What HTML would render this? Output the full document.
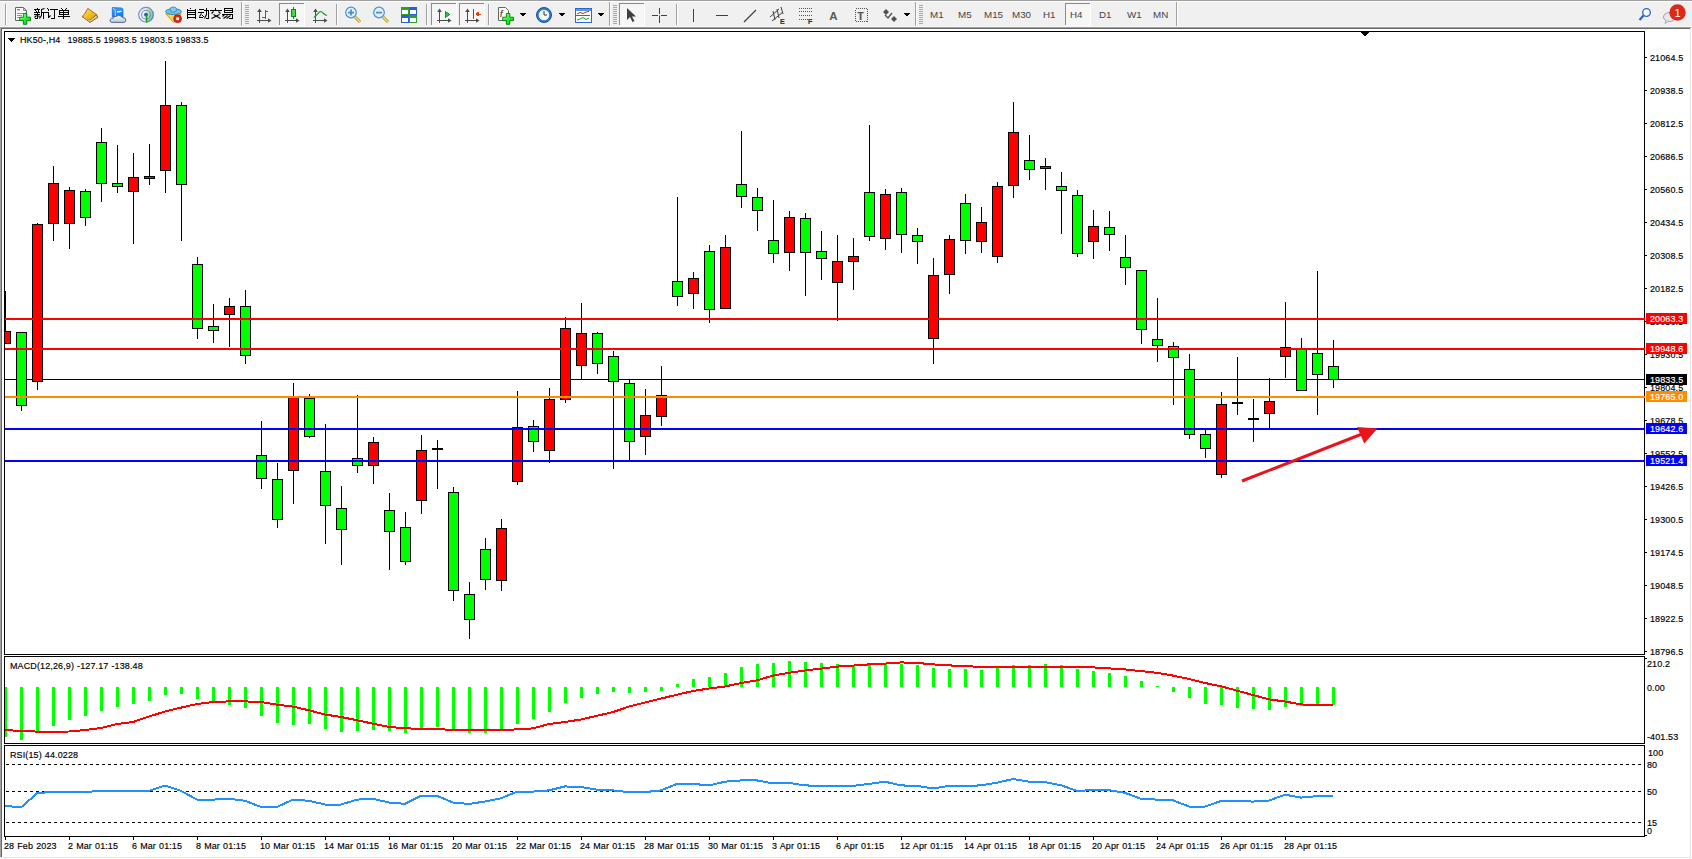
<!DOCTYPE html>
<html><head><meta charset="utf-8">
<style>
html,body{margin:0;padding:0;width:1692px;height:859px;overflow:hidden;background:#f0f0f0}
svg{position:absolute;left:0;top:0}
text{font-family:"Liberation Sans",sans-serif;stroke:currentColor;stroke-width:0.15px;letter-spacing:0.12px;word-spacing:0.4px}
text.nt{stroke:none;letter-spacing:0}
.tb{position:absolute;font-family:"Liberation Sans",sans-serif;white-space:nowrap}
</style></head><body>
<svg width="1692" height="859" viewBox="0 0 1692 859" shape-rendering="crispEdges">
<rect x="0" y="0" width="1692" height="859" fill="#f0f0f0"/>
<rect x="0" y="0" width="1692" height="1" fill="#a0a0a0"/>
<rect x="0" y="1" width="1692" height="1" fill="#ffffff"/>
<rect x="0" y="26" width="1692" height="1" fill="#f6f6f6"/>
<rect x="0" y="27" width="1691" height="1" fill="#a0a0a0"/>
<rect x="0" y="28" width="1690" height="1" fill="#696969"/>
<rect x="2" y="29" width="1688" height="828" fill="#ffffff"/>
<rect x="0" y="27" width="1" height="830" fill="#a0a0a0"/>
<rect x="1" y="28" width="1" height="829" fill="#696969"/>
<rect x="1690" y="28" width="1" height="830" fill="#e3e3e3"/>
<rect x="0" y="857" width="1691" height="1" fill="#e3e3e3"/>
<rect x="1691" y="28" width="1" height="831" fill="#ffffff"/>
<rect x="0" y="858" width="1692" height="1" fill="#ffffff"/>
<defs><clipPath id="cm"><rect x="5" y="32" width="1639" height="622"/></clipPath><clipPath id="cd"><rect x="5" y="657" width="1639" height="86"/></clipPath><clipPath id="cr"><rect x="5" y="746" width="1639" height="90"/></clipPath></defs>
<g clip-path="url(#cm)">
<rect x="5" y="379" width="1640" height="1" fill="#000"/>
<rect x="5" y="291" width="1" height="53" fill="#000"/>
<rect x="0" y="331" width="11" height="13" fill="#000"/>
<rect x="1" y="332" width="9" height="11" fill="#ff0000"/>
<rect x="21" y="332" width="1" height="79" fill="#000"/>
<rect x="16" y="332" width="11" height="74" fill="#000"/>
<rect x="17" y="333" width="9" height="72" fill="#00ff00"/>
<rect x="37" y="223" width="1" height="167" fill="#000"/>
<rect x="32" y="224" width="11" height="158" fill="#000"/>
<rect x="33" y="225" width="9" height="156" fill="#ff0000"/>
<rect x="53" y="166" width="1" height="75" fill="#000"/>
<rect x="48" y="183" width="11" height="41" fill="#000"/>
<rect x="49" y="184" width="9" height="39" fill="#ff0000"/>
<rect x="69" y="187" width="1" height="62" fill="#000"/>
<rect x="64" y="190" width="11" height="34" fill="#000"/>
<rect x="65" y="191" width="9" height="32" fill="#ff0000"/>
<rect x="85" y="189" width="1" height="37" fill="#000"/>
<rect x="80" y="191" width="11" height="27" fill="#000"/>
<rect x="81" y="192" width="9" height="25" fill="#00ff00"/>
<rect x="101" y="128" width="1" height="74" fill="#000"/>
<rect x="96" y="142" width="11" height="42" fill="#000"/>
<rect x="97" y="143" width="9" height="40" fill="#00ff00"/>
<rect x="117" y="145" width="1" height="48" fill="#000"/>
<rect x="112" y="183" width="11" height="4" fill="#000"/>
<rect x="113" y="184" width="9" height="2" fill="#00ff00"/>
<rect x="133" y="153" width="1" height="91" fill="#000"/>
<rect x="128" y="177" width="11" height="15" fill="#000"/>
<rect x="129" y="178" width="9" height="13" fill="#ff0000"/>
<rect x="149" y="144" width="1" height="41" fill="#000"/>
<rect x="144" y="176" width="11" height="3" fill="#000"/>
<rect x="145" y="177" width="9" height="1" fill="#ff0000"/>
<rect x="165" y="61" width="1" height="132" fill="#000"/>
<rect x="160" y="105" width="11" height="66" fill="#000"/>
<rect x="161" y="106" width="9" height="64" fill="#ff0000"/>
<rect x="181" y="102" width="1" height="139" fill="#000"/>
<rect x="176" y="105" width="11" height="80" fill="#000"/>
<rect x="177" y="106" width="9" height="78" fill="#00ff00"/>
<rect x="197" y="257" width="1" height="82" fill="#000"/>
<rect x="192" y="264" width="11" height="65" fill="#000"/>
<rect x="193" y="265" width="9" height="63" fill="#00ff00"/>
<rect x="213" y="304" width="1" height="39" fill="#000"/>
<rect x="208" y="326" width="11" height="5" fill="#000"/>
<rect x="209" y="327" width="9" height="3" fill="#00ff00"/>
<rect x="229" y="298" width="1" height="49" fill="#000"/>
<rect x="224" y="306" width="11" height="9" fill="#000"/>
<rect x="225" y="307" width="9" height="7" fill="#ff0000"/>
<rect x="245" y="290" width="1" height="74" fill="#000"/>
<rect x="240" y="306" width="11" height="50" fill="#000"/>
<rect x="241" y="307" width="9" height="48" fill="#00ff00"/>
<rect x="261" y="421" width="1" height="68" fill="#000"/>
<rect x="256" y="455" width="11" height="24" fill="#000"/>
<rect x="257" y="456" width="9" height="22" fill="#00ff00"/>
<rect x="277" y="463" width="1" height="65" fill="#000"/>
<rect x="272" y="479" width="11" height="41" fill="#000"/>
<rect x="273" y="480" width="9" height="39" fill="#00ff00"/>
<rect x="293" y="383" width="1" height="121" fill="#000"/>
<rect x="288" y="397" width="11" height="74" fill="#000"/>
<rect x="289" y="398" width="9" height="72" fill="#ff0000"/>
<rect x="309" y="394" width="1" height="44" fill="#000"/>
<rect x="304" y="398" width="11" height="39" fill="#000"/>
<rect x="305" y="399" width="9" height="37" fill="#00ff00"/>
<rect x="325" y="424" width="1" height="120" fill="#000"/>
<rect x="320" y="471" width="11" height="35" fill="#000"/>
<rect x="321" y="472" width="9" height="33" fill="#00ff00"/>
<rect x="341" y="486" width="1" height="79" fill="#000"/>
<rect x="336" y="508" width="11" height="22" fill="#000"/>
<rect x="337" y="509" width="9" height="20" fill="#00ff00"/>
<rect x="357" y="395" width="1" height="78" fill="#000"/>
<rect x="352" y="458" width="11" height="8" fill="#000"/>
<rect x="353" y="459" width="9" height="6" fill="#00ff00"/>
<rect x="373" y="437" width="1" height="47" fill="#000"/>
<rect x="368" y="442" width="11" height="24" fill="#000"/>
<rect x="369" y="443" width="9" height="22" fill="#ff0000"/>
<rect x="389" y="493" width="1" height="77" fill="#000"/>
<rect x="384" y="510" width="11" height="22" fill="#000"/>
<rect x="385" y="511" width="9" height="20" fill="#00ff00"/>
<rect x="405" y="512" width="1" height="53" fill="#000"/>
<rect x="400" y="527" width="11" height="35" fill="#000"/>
<rect x="401" y="528" width="9" height="33" fill="#00ff00"/>
<rect x="421" y="435" width="1" height="79" fill="#000"/>
<rect x="416" y="450" width="11" height="51" fill="#000"/>
<rect x="417" y="451" width="9" height="49" fill="#ff0000"/>
<rect x="437" y="440" width="1" height="49" fill="#000"/>
<rect x="432" y="448" width="11" height="2" fill="#000"/>
<rect x="453" y="487" width="1" height="114" fill="#000"/>
<rect x="448" y="492" width="11" height="99" fill="#000"/>
<rect x="449" y="493" width="9" height="97" fill="#00ff00"/>
<rect x="469" y="582" width="1" height="57" fill="#000"/>
<rect x="464" y="594" width="11" height="26" fill="#000"/>
<rect x="465" y="595" width="9" height="24" fill="#00ff00"/>
<rect x="485" y="538" width="1" height="52" fill="#000"/>
<rect x="480" y="549" width="11" height="31" fill="#000"/>
<rect x="481" y="550" width="9" height="29" fill="#00ff00"/>
<rect x="501" y="519" width="1" height="72" fill="#000"/>
<rect x="496" y="528" width="11" height="53" fill="#000"/>
<rect x="497" y="529" width="9" height="51" fill="#ff0000"/>
<rect x="517" y="391" width="1" height="94" fill="#000"/>
<rect x="512" y="427" width="11" height="55" fill="#000"/>
<rect x="513" y="428" width="9" height="53" fill="#ff0000"/>
<rect x="533" y="420" width="1" height="32" fill="#000"/>
<rect x="528" y="426" width="11" height="16" fill="#000"/>
<rect x="529" y="427" width="9" height="14" fill="#00ff00"/>
<rect x="549" y="388" width="1" height="75" fill="#000"/>
<rect x="544" y="399" width="11" height="52" fill="#000"/>
<rect x="545" y="400" width="9" height="50" fill="#ff0000"/>
<rect x="565" y="317" width="1" height="86" fill="#000"/>
<rect x="560" y="328" width="11" height="72" fill="#000"/>
<rect x="561" y="329" width="9" height="70" fill="#ff0000"/>
<rect x="581" y="303" width="1" height="76" fill="#000"/>
<rect x="576" y="333" width="11" height="33" fill="#000"/>
<rect x="577" y="334" width="9" height="31" fill="#ff0000"/>
<rect x="597" y="332" width="1" height="42" fill="#000"/>
<rect x="592" y="333" width="11" height="31" fill="#000"/>
<rect x="593" y="334" width="9" height="29" fill="#00ff00"/>
<rect x="613" y="351" width="1" height="118" fill="#000"/>
<rect x="608" y="356" width="11" height="26" fill="#000"/>
<rect x="609" y="357" width="9" height="24" fill="#00ff00"/>
<rect x="629" y="380" width="1" height="80" fill="#000"/>
<rect x="624" y="383" width="11" height="59" fill="#000"/>
<rect x="625" y="384" width="9" height="57" fill="#00ff00"/>
<rect x="645" y="389" width="1" height="66" fill="#000"/>
<rect x="640" y="415" width="11" height="22" fill="#000"/>
<rect x="641" y="416" width="9" height="20" fill="#ff0000"/>
<rect x="661" y="366" width="1" height="60" fill="#000"/>
<rect x="656" y="395" width="11" height="22" fill="#000"/>
<rect x="657" y="396" width="9" height="20" fill="#ff0000"/>
<rect x="677" y="197" width="1" height="109" fill="#000"/>
<rect x="672" y="281" width="11" height="16" fill="#000"/>
<rect x="673" y="282" width="9" height="14" fill="#00ff00"/>
<rect x="693" y="272" width="1" height="37" fill="#000"/>
<rect x="688" y="278" width="11" height="16" fill="#000"/>
<rect x="689" y="279" width="9" height="14" fill="#ff0000"/>
<rect x="709" y="245" width="1" height="78" fill="#000"/>
<rect x="704" y="251" width="11" height="59" fill="#000"/>
<rect x="705" y="252" width="9" height="57" fill="#00ff00"/>
<rect x="725" y="235" width="1" height="74" fill="#000"/>
<rect x="720" y="247" width="11" height="62" fill="#000"/>
<rect x="721" y="248" width="9" height="60" fill="#ff0000"/>
<rect x="741" y="131" width="1" height="77" fill="#000"/>
<rect x="736" y="184" width="11" height="13" fill="#000"/>
<rect x="737" y="185" width="9" height="11" fill="#00ff00"/>
<rect x="757" y="188" width="1" height="43" fill="#000"/>
<rect x="752" y="197" width="11" height="14" fill="#000"/>
<rect x="753" y="198" width="9" height="12" fill="#00ff00"/>
<rect x="773" y="200" width="1" height="63" fill="#000"/>
<rect x="768" y="240" width="11" height="14" fill="#000"/>
<rect x="769" y="241" width="9" height="12" fill="#00ff00"/>
<rect x="789" y="211" width="1" height="60" fill="#000"/>
<rect x="784" y="217" width="11" height="36" fill="#000"/>
<rect x="785" y="218" width="9" height="34" fill="#ff0000"/>
<rect x="805" y="213" width="1" height="83" fill="#000"/>
<rect x="800" y="218" width="11" height="35" fill="#000"/>
<rect x="801" y="219" width="9" height="33" fill="#00ff00"/>
<rect x="821" y="231" width="1" height="49" fill="#000"/>
<rect x="816" y="251" width="11" height="8" fill="#000"/>
<rect x="817" y="252" width="9" height="6" fill="#00ff00"/>
<rect x="837" y="235" width="1" height="86" fill="#000"/>
<rect x="832" y="261" width="11" height="22" fill="#000"/>
<rect x="833" y="262" width="9" height="20" fill="#ff0000"/>
<rect x="853" y="238" width="1" height="52" fill="#000"/>
<rect x="848" y="256" width="11" height="6" fill="#000"/>
<rect x="849" y="257" width="9" height="4" fill="#ff0000"/>
<rect x="869" y="125" width="1" height="116" fill="#000"/>
<rect x="864" y="192" width="11" height="45" fill="#000"/>
<rect x="865" y="193" width="9" height="43" fill="#00ff00"/>
<rect x="885" y="189" width="1" height="61" fill="#000"/>
<rect x="880" y="194" width="11" height="45" fill="#000"/>
<rect x="881" y="195" width="9" height="43" fill="#ff0000"/>
<rect x="901" y="188" width="1" height="65" fill="#000"/>
<rect x="896" y="192" width="11" height="43" fill="#000"/>
<rect x="897" y="193" width="9" height="41" fill="#00ff00"/>
<rect x="917" y="228" width="1" height="36" fill="#000"/>
<rect x="912" y="235" width="11" height="7" fill="#000"/>
<rect x="913" y="236" width="9" height="5" fill="#00ff00"/>
<rect x="933" y="258" width="1" height="106" fill="#000"/>
<rect x="928" y="275" width="11" height="64" fill="#000"/>
<rect x="929" y="276" width="9" height="62" fill="#ff0000"/>
<rect x="949" y="235" width="1" height="59" fill="#000"/>
<rect x="944" y="239" width="11" height="36" fill="#000"/>
<rect x="945" y="240" width="9" height="34" fill="#ff0000"/>
<rect x="965" y="194" width="1" height="60" fill="#000"/>
<rect x="960" y="203" width="11" height="38" fill="#000"/>
<rect x="961" y="204" width="9" height="36" fill="#00ff00"/>
<rect x="981" y="207" width="1" height="46" fill="#000"/>
<rect x="976" y="222" width="11" height="20" fill="#000"/>
<rect x="977" y="223" width="9" height="18" fill="#ff0000"/>
<rect x="997" y="182" width="1" height="81" fill="#000"/>
<rect x="992" y="186" width="11" height="71" fill="#000"/>
<rect x="993" y="187" width="9" height="69" fill="#ff0000"/>
<rect x="1013" y="102" width="1" height="96" fill="#000"/>
<rect x="1008" y="132" width="11" height="54" fill="#000"/>
<rect x="1009" y="133" width="9" height="52" fill="#ff0000"/>
<rect x="1029" y="135" width="1" height="45" fill="#000"/>
<rect x="1024" y="160" width="11" height="10" fill="#000"/>
<rect x="1025" y="161" width="9" height="8" fill="#00ff00"/>
<rect x="1045" y="158" width="1" height="32" fill="#000"/>
<rect x="1040" y="166" width="11" height="3" fill="#000"/>
<rect x="1041" y="167" width="9" height="1" fill="#ff0000"/>
<rect x="1061" y="172" width="1" height="62" fill="#000"/>
<rect x="1056" y="186" width="11" height="5" fill="#000"/>
<rect x="1057" y="187" width="9" height="3" fill="#00ff00"/>
<rect x="1077" y="190" width="1" height="67" fill="#000"/>
<rect x="1072" y="195" width="11" height="59" fill="#000"/>
<rect x="1073" y="196" width="9" height="57" fill="#00ff00"/>
<rect x="1093" y="210" width="1" height="49" fill="#000"/>
<rect x="1088" y="226" width="11" height="16" fill="#000"/>
<rect x="1089" y="227" width="9" height="14" fill="#ff0000"/>
<rect x="1109" y="211" width="1" height="40" fill="#000"/>
<rect x="1104" y="227" width="11" height="8" fill="#000"/>
<rect x="1105" y="228" width="9" height="6" fill="#00ff00"/>
<rect x="1125" y="235" width="1" height="50" fill="#000"/>
<rect x="1120" y="257" width="11" height="11" fill="#000"/>
<rect x="1121" y="258" width="9" height="9" fill="#00ff00"/>
<rect x="1141" y="270" width="1" height="74" fill="#000"/>
<rect x="1136" y="270" width="11" height="60" fill="#000"/>
<rect x="1137" y="271" width="9" height="58" fill="#00ff00"/>
<rect x="1157" y="298" width="1" height="64" fill="#000"/>
<rect x="1152" y="339" width="11" height="7" fill="#000"/>
<rect x="1153" y="340" width="9" height="5" fill="#00ff00"/>
<rect x="1173" y="342" width="1" height="63" fill="#000"/>
<rect x="1168" y="346" width="11" height="12" fill="#000"/>
<rect x="1169" y="347" width="9" height="10" fill="#00ff00"/>
<rect x="1189" y="354" width="1" height="85" fill="#000"/>
<rect x="1184" y="369" width="11" height="66" fill="#000"/>
<rect x="1185" y="370" width="9" height="64" fill="#00ff00"/>
<rect x="1205" y="429" width="1" height="29" fill="#000"/>
<rect x="1200" y="434" width="11" height="15" fill="#000"/>
<rect x="1201" y="435" width="9" height="13" fill="#00ff00"/>
<rect x="1221" y="392" width="1" height="86" fill="#000"/>
<rect x="1216" y="404" width="11" height="71" fill="#000"/>
<rect x="1217" y="405" width="9" height="69" fill="#ff0000"/>
<rect x="1237" y="357" width="1" height="58" fill="#000"/>
<rect x="1232" y="402" width="11" height="2" fill="#000"/>
<rect x="1253" y="399" width="1" height="43" fill="#000"/>
<rect x="1248" y="418" width="11" height="2" fill="#000"/>
<rect x="1269" y="378" width="1" height="50" fill="#000"/>
<rect x="1264" y="401" width="11" height="13" fill="#000"/>
<rect x="1265" y="402" width="9" height="11" fill="#ff0000"/>
<rect x="1285" y="302" width="1" height="76" fill="#000"/>
<rect x="1280" y="347" width="11" height="10" fill="#000"/>
<rect x="1281" y="348" width="9" height="8" fill="#ff0000"/>
<rect x="1301" y="338" width="1" height="53" fill="#000"/>
<rect x="1296" y="349" width="11" height="42" fill="#000"/>
<rect x="1297" y="350" width="9" height="40" fill="#00ff00"/>
<rect x="1317" y="271" width="1" height="144" fill="#000"/>
<rect x="1312" y="353" width="11" height="22" fill="#000"/>
<rect x="1313" y="354" width="9" height="20" fill="#00ff00"/>
<rect x="1333" y="340" width="1" height="48" fill="#000"/>
<rect x="1328" y="366" width="11" height="14" fill="#000"/>
<rect x="1329" y="367" width="9" height="12" fill="#00ff00"/>
</g>
<rect x="1360" y="31" width="10" height="1" fill="#000"/>
<rect x="1361" y="32" width="8" height="1" fill="#000"/>
<rect x="1362" y="33" width="6" height="1" fill="#000"/>
<rect x="1363" y="34" width="4" height="1" fill="#000"/>
<rect x="1364" y="35" width="2" height="1" fill="#000"/>
<rect x="4" y="31" width="1641" height="1" fill="#000"/>
<rect x="4" y="654" width="1641" height="1" fill="#000"/>
<rect x="4" y="31" width="1" height="624" fill="#000"/>
<rect x="1644" y="31" width="1" height="624" fill="#000"/>
<rect x="4" y="656" width="1641" height="1" fill="#000"/>
<rect x="4" y="743" width="1641" height="1" fill="#000"/>
<rect x="4" y="656" width="1" height="88" fill="#000"/>
<rect x="1644" y="656" width="1" height="88" fill="#000"/>
<rect x="4" y="745" width="1641" height="1" fill="#000"/>
<rect x="4" y="836" width="1641" height="1" fill="#000"/>
<rect x="4" y="745" width="1" height="92" fill="#000"/>
<rect x="1644" y="745" width="1" height="92" fill="#000"/>
<rect x="5" y="318" width="1640" height="2" fill="#ff0000"/>
<rect x="5" y="348" width="1640" height="2" fill="#ff0000"/>
<rect x="5" y="396" width="1640" height="2" fill="#ff8c00"/>
<rect x="5" y="428" width="1640" height="2" fill="#0000ff"/>
<rect x="5" y="460" width="1640" height="2" fill="#0000ff"/>
<line x1="1242" y1="481" x2="1362" y2="434" stroke="#e8141c" stroke-width="3" shape-rendering="geometricPrecision"/>
<polygon points="1357,427 1377.5,428.5 1364.3,443.5" fill="#e8141c" shape-rendering="geometricPrecision"/>
<rect x="1645" y="57" width="2" height="1" fill="#000"/>
<text transform="translate(1650 61) scale(1 1.1)" fill="#000" color="#000" font-size="9" >21064.5</text>
<rect x="1645" y="90" width="2" height="1" fill="#000"/>
<text transform="translate(1650 94) scale(1 1.1)" fill="#000" color="#000" font-size="9" >20938.5</text>
<rect x="1645" y="123" width="2" height="1" fill="#000"/>
<text transform="translate(1650 127) scale(1 1.1)" fill="#000" color="#000" font-size="9" >20812.5</text>
<rect x="1645" y="156" width="2" height="1" fill="#000"/>
<text transform="translate(1650 160) scale(1 1.1)" fill="#000" color="#000" font-size="9" >20686.5</text>
<rect x="1645" y="189" width="2" height="1" fill="#000"/>
<text transform="translate(1650 193) scale(1 1.1)" fill="#000" color="#000" font-size="9" >20560.5</text>
<rect x="1645" y="222" width="2" height="1" fill="#000"/>
<text transform="translate(1650 226) scale(1 1.1)" fill="#000" color="#000" font-size="9" >20434.5</text>
<rect x="1645" y="255" width="2" height="1" fill="#000"/>
<text transform="translate(1650 259) scale(1 1.1)" fill="#000" color="#000" font-size="9" >20308.5</text>
<rect x="1645" y="288" width="2" height="1" fill="#000"/>
<text transform="translate(1650 292) scale(1 1.1)" fill="#000" color="#000" font-size="9" >20182.5</text>
<rect x="1645" y="321" width="2" height="1" fill="#000"/>
<text transform="translate(1650 325) scale(1 1.1)" fill="#000" color="#000" font-size="9" >20056.5</text>
<rect x="1645" y="354" width="2" height="1" fill="#000"/>
<text transform="translate(1650 358) scale(1 1.1)" fill="#000" color="#000" font-size="9" >19930.5</text>
<rect x="1645" y="387" width="2" height="1" fill="#000"/>
<text transform="translate(1650 391) scale(1 1.1)" fill="#000" color="#000" font-size="9" >19804.5</text>
<rect x="1645" y="420" width="2" height="1" fill="#000"/>
<text transform="translate(1650 424) scale(1 1.1)" fill="#000" color="#000" font-size="9" >19678.5</text>
<rect x="1645" y="453" width="2" height="1" fill="#000"/>
<text transform="translate(1650 457) scale(1 1.1)" fill="#000" color="#000" font-size="9" >19552.5</text>
<rect x="1645" y="486" width="2" height="1" fill="#000"/>
<text transform="translate(1650 490) scale(1 1.1)" fill="#000" color="#000" font-size="9" >19426.5</text>
<rect x="1645" y="519" width="2" height="1" fill="#000"/>
<text transform="translate(1650 523) scale(1 1.1)" fill="#000" color="#000" font-size="9" >19300.5</text>
<rect x="1645" y="552" width="2" height="1" fill="#000"/>
<text transform="translate(1650 556) scale(1 1.1)" fill="#000" color="#000" font-size="9" >19174.5</text>
<rect x="1645" y="585" width="2" height="1" fill="#000"/>
<text transform="translate(1650 589) scale(1 1.1)" fill="#000" color="#000" font-size="9" >19048.5</text>
<rect x="1645" y="618" width="2" height="1" fill="#000"/>
<text transform="translate(1650 622) scale(1 1.1)" fill="#000" color="#000" font-size="9" >18922.5</text>
<rect x="1645" y="651" width="2" height="1" fill="#000"/>
<text transform="translate(1650 655) scale(1 1.1)" fill="#000" color="#000" font-size="9" >18796.5</text>
<rect x="1646" y="313" width="41" height="11" fill="#ff0000"/>
<text transform="translate(1650 322) scale(1 1.1)" fill="#fff" color="#fff" font-size="9" >20063.3</text>
<rect x="1646" y="343" width="41" height="11" fill="#ff0000"/>
<text transform="translate(1650 352) scale(1 1.1)" fill="#fff" color="#fff" font-size="9" >19948.6</text>
<rect x="1646" y="374" width="41" height="11" fill="#000000"/>
<text transform="translate(1650 383) scale(1 1.1)" fill="#fff" color="#fff" font-size="9" >19833.5</text>
<rect x="1646" y="391" width="41" height="11" fill="#ff8c00"/>
<text transform="translate(1650 400) scale(1 1.1)" fill="#fff" color="#fff" font-size="9" >19765.0</text>
<rect x="1646" y="423" width="41" height="11" fill="#0000ff"/>
<text transform="translate(1650 432) scale(1 1.1)" fill="#fff" color="#fff" font-size="9" >19642.6</text>
<rect x="1646" y="455" width="41" height="11" fill="#0000ff"/>
<text transform="translate(1650 464) scale(1 1.1)" fill="#fff" color="#fff" font-size="9" >19521.4</text>
<rect x="8" y="38" width="7" height="1" fill="#000"/>
<rect x="9" y="39" width="5" height="1" fill="#000"/>
<rect x="10" y="40" width="3" height="1" fill="#000"/>
<rect x="11" y="41" width="1" height="1" fill="#000"/>
<text transform="translate(20 43) scale(1 1.1)" fill="#000" color="#000" font-size="9" >HK50-,H4</text>
<text transform="translate(67.4 43) scale(1 1.1)" fill="#000" color="#000" font-size="9" >19885.5</text>
<text transform="translate(103.4 43) scale(1 1.1)" fill="#000" color="#000" font-size="9" >19983.5</text>
<text transform="translate(139.4 43) scale(1 1.1)" fill="#000" color="#000" font-size="9" >19803.5</text>
<text transform="translate(175.3 43) scale(1 1.1)" fill="#000" color="#000" font-size="9" >19833.5</text>
<g clip-path="url(#cd)">
<rect x="4" y="687" width="3" height="50" fill="#00ff00"/>
<rect x="20" y="687" width="3" height="53" fill="#00ff00"/>
<rect x="36" y="687" width="3" height="44" fill="#00ff00"/>
<rect x="52" y="687" width="3" height="39" fill="#00ff00"/>
<rect x="68" y="687" width="3" height="33" fill="#00ff00"/>
<rect x="84" y="687" width="3" height="29" fill="#00ff00"/>
<rect x="100" y="687" width="3" height="24" fill="#00ff00"/>
<rect x="116" y="687" width="3" height="20" fill="#00ff00"/>
<rect x="132" y="687" width="3" height="17" fill="#00ff00"/>
<rect x="148" y="687" width="3" height="14" fill="#00ff00"/>
<rect x="164" y="687" width="3" height="8" fill="#00ff00"/>
<rect x="180" y="687" width="3" height="7" fill="#00ff00"/>
<rect x="196" y="687" width="3" height="12" fill="#00ff00"/>
<rect x="212" y="687" width="3" height="15" fill="#00ff00"/>
<rect x="228" y="687" width="3" height="18" fill="#00ff00"/>
<rect x="244" y="687" width="3" height="21" fill="#00ff00"/>
<rect x="260" y="687" width="3" height="29" fill="#00ff00"/>
<rect x="276" y="687" width="3" height="36" fill="#00ff00"/>
<rect x="292" y="687" width="3" height="38" fill="#00ff00"/>
<rect x="308" y="687" width="3" height="37" fill="#00ff00"/>
<rect x="324" y="687" width="3" height="42" fill="#00ff00"/>
<rect x="340" y="687" width="3" height="45" fill="#00ff00"/>
<rect x="356" y="687" width="3" height="44" fill="#00ff00"/>
<rect x="372" y="687" width="3" height="43" fill="#00ff00"/>
<rect x="388" y="687" width="3" height="44" fill="#00ff00"/>
<rect x="404" y="687" width="3" height="46" fill="#00ff00"/>
<rect x="420" y="687" width="3" height="42" fill="#00ff00"/>
<rect x="436" y="687" width="3" height="40" fill="#00ff00"/>
<rect x="452" y="687" width="3" height="42" fill="#00ff00"/>
<rect x="468" y="687" width="3" height="46" fill="#00ff00"/>
<rect x="484" y="687" width="3" height="46" fill="#00ff00"/>
<rect x="500" y="687" width="3" height="42" fill="#00ff00"/>
<rect x="516" y="687" width="3" height="37" fill="#00ff00"/>
<rect x="532" y="687" width="3" height="32" fill="#00ff00"/>
<rect x="548" y="687" width="3" height="25" fill="#00ff00"/>
<rect x="564" y="687" width="3" height="16" fill="#00ff00"/>
<rect x="580" y="687" width="3" height="11" fill="#00ff00"/>
<rect x="596" y="687" width="3" height="7" fill="#00ff00"/>
<rect x="612" y="687" width="3" height="5" fill="#00ff00"/>
<rect x="628" y="687" width="3" height="6" fill="#00ff00"/>
<rect x="644" y="687" width="3" height="5" fill="#00ff00"/>
<rect x="660" y="687" width="3" height="4" fill="#00ff00"/>
<rect x="676" y="684" width="3" height="3" fill="#00ff00"/>
<rect x="692" y="679" width="3" height="8" fill="#00ff00"/>
<rect x="708" y="677" width="3" height="10" fill="#00ff00"/>
<rect x="724" y="673" width="3" height="14" fill="#00ff00"/>
<rect x="740" y="667" width="3" height="20" fill="#00ff00"/>
<rect x="756" y="664" width="3" height="23" fill="#00ff00"/>
<rect x="772" y="663" width="3" height="24" fill="#00ff00"/>
<rect x="788" y="661" width="3" height="26" fill="#00ff00"/>
<rect x="804" y="662" width="3" height="25" fill="#00ff00"/>
<rect x="820" y="663" width="3" height="24" fill="#00ff00"/>
<rect x="836" y="664" width="3" height="23" fill="#00ff00"/>
<rect x="852" y="665" width="3" height="22" fill="#00ff00"/>
<rect x="868" y="664" width="3" height="23" fill="#00ff00"/>
<rect x="884" y="664" width="3" height="23" fill="#00ff00"/>
<rect x="900" y="664" width="3" height="23" fill="#00ff00"/>
<rect x="916" y="665" width="3" height="22" fill="#00ff00"/>
<rect x="932" y="668" width="3" height="19" fill="#00ff00"/>
<rect x="948" y="669" width="3" height="18" fill="#00ff00"/>
<rect x="964" y="669" width="3" height="18" fill="#00ff00"/>
<rect x="980" y="670" width="3" height="17" fill="#00ff00"/>
<rect x="996" y="668" width="3" height="19" fill="#00ff00"/>
<rect x="1012" y="665" width="3" height="22" fill="#00ff00"/>
<rect x="1028" y="665" width="3" height="22" fill="#00ff00"/>
<rect x="1044" y="664" width="3" height="23" fill="#00ff00"/>
<rect x="1060" y="665" width="3" height="22" fill="#00ff00"/>
<rect x="1076" y="669" width="3" height="18" fill="#00ff00"/>
<rect x="1092" y="671" width="3" height="16" fill="#00ff00"/>
<rect x="1108" y="673" width="3" height="14" fill="#00ff00"/>
<rect x="1124" y="676" width="3" height="11" fill="#00ff00"/>
<rect x="1140" y="681" width="3" height="6" fill="#00ff00"/>
<rect x="1156" y="686" width="3" height="1" fill="#00ff00"/>
<rect x="1172" y="687" width="3" height="5" fill="#00ff00"/>
<rect x="1188" y="687" width="3" height="11" fill="#00ff00"/>
<rect x="1204" y="687" width="3" height="17" fill="#00ff00"/>
<rect x="1220" y="687" width="3" height="18" fill="#00ff00"/>
<rect x="1236" y="687" width="3" height="21" fill="#00ff00"/>
<rect x="1252" y="687" width="3" height="22" fill="#00ff00"/>
<rect x="1268" y="687" width="3" height="23" fill="#00ff00"/>
<rect x="1284" y="687" width="3" height="20" fill="#00ff00"/>
<rect x="1300" y="687" width="3" height="19" fill="#00ff00"/>
<rect x="1316" y="687" width="3" height="18" fill="#00ff00"/>
<rect x="1332" y="687" width="3" height="18" fill="#00ff00"/>
<polyline points="5,730 21,731 37,731.6 53,731.8 69,731.5 85,730 101,728 117,724 133,722 149,716.5 165,711.5 181,707.6 197,704 213,702 229,701.4 245,701.4 261,702 277,704.6 293,706.6 309,710.3 325,714.5 341,717 357,720.2 373,723.7 389,727 405,728.2 421,729 437,729 453,730 469,730 485,730 501,730 517,729.4 533,728.4 549,724 565,722 581,719.5 597,715.8 613,712 629,706.6 645,702.6 661,698.6 677,694.7 693,691 709,688.5 725,686.5 741,683 757,680.3 773,675.6 789,672.8 805,670.5 821,668.6 837,666.6 853,665.6 869,664.4 885,663.6 901,662.4 917,662.9 933,664.4 949,665.4 965,666.1 981,666.9 997,667 1013,667 1029,667 1045,667 1061,667 1077,667 1093,667.4 1109,668.4 1125,669.4 1141,671.1 1157,672.8 1173,675.6 1189,679 1205,683 1221,686.3 1237,690.7 1253,695 1269,699.4 1285,701.5 1301,704.4 1317,705.2 1333,705.2" fill="none" stroke="#ff0000" stroke-width="2" shape-rendering="crispEdges"/>
</g>
<text transform="translate(10 669) scale(1 1.1)" fill="#000" color="#000" font-size="9" >MACD(12,26,9) -127.17 -138.48</text>
<text transform="translate(1647 667) scale(1 1.1)" fill="#000" color="#000" font-size="9" >210.2</text>
<text transform="translate(1647 691) scale(1 1.1)" fill="#000" color="#000" font-size="9" >0.00</text>
<text transform="translate(1647 740) scale(1 1.1)" fill="#000" color="#000" font-size="9" >-401.53</text>
<rect x="1645" y="658" width="2" height="1" fill="#000"/>
<g clip-path="url(#cr)">
<line x1="6" y1="764.5" x2="1644" y2="764.5" stroke="#000" stroke-width="1" stroke-dasharray="3,3" shape-rendering="crispEdges"/>
<line x1="6" y1="791.5" x2="1644" y2="791.5" stroke="#000" stroke-width="1" stroke-dasharray="3,3" shape-rendering="crispEdges"/>
<line x1="6" y1="822.5" x2="1644" y2="822.5" stroke="#000" stroke-width="1" stroke-dasharray="3,3" shape-rendering="crispEdges"/>
<polyline points="5,805.8 21,807.5 37,793.3 53,791.6 69,792 85,792 101,790.9 117,790.9 133,790.9 149,790.9 165,785.4 181,790.9 197,799.6 213,799.6 229,798.8 245,800.8 261,807 277,807 293,799.6 309,800.8 325,804.5 341,804.5 357,799.6 373,798.8 389,802.5 405,803.8 421,795.8 437,795.8 453,802.5 469,804 485,801.5 501,798.3 517,791.6 533,791.6 549,790.4 565,786.4 581,787.1 597,789.6 613,790.4 629,792.1 645,792.1 661,790.4 677,783.9 693,783.9 709,785.4 725,781.7 741,780.4 757,780.4 773,783.4 789,782.9 805,785.4 821,785.9 837,785.9 853,785.9 869,783.9 885,781.7 901,785.4 917,785.9 933,788.4 949,785.9 965,785.9 981,785.4 997,782.7 1013,779 1029,781.7 1045,782.2 1061,785.2 1077,790.9 1093,790.1 1109,790.1 1125,792.9 1141,798.8 1157,799.6 1173,800.3 1189,806.5 1205,806.5 1221,801 1237,801 1253,801.6 1269,800.5 1285,794.7 1301,797.6 1317,796.1 1333,795.8" fill="none" stroke="#1e90ff" stroke-width="2" shape-rendering="crispEdges"/>
</g>
<text transform="translate(10 758) scale(1 1.1)" fill="#000" color="#000" font-size="9" >RSI(15) 44.0228</text>
<text transform="translate(1648 756) scale(1 1.1)" fill="#000" color="#000" font-size="9" >100</text>
<text transform="translate(1647 768) scale(1 1.1)" fill="#000" color="#000" font-size="9" >80</text>
<text transform="translate(1647 795) scale(1 1.1)" fill="#000" color="#000" font-size="9" >50</text>
<text transform="translate(1647 826) scale(1 1.1)" fill="#000" color="#000" font-size="9" >15</text>
<text transform="translate(1647 834) scale(1 1.1)" fill="#000" color="#000" font-size="9" >0</text>
<rect x="1645" y="835" width="2" height="1" fill="#000"/>
<rect x="5" y="837" width="1" height="3" fill="#000"/>
<text transform="translate(4 849) scale(1 1.1)" fill="#000" color="#000" font-size="9" >28 Feb 2023</text>
<rect x="69" y="837" width="1" height="3" fill="#000"/>
<text transform="translate(68 849) scale(1 1.1)" fill="#000" color="#000" font-size="9" >2 Mar 01:15</text>
<rect x="133" y="837" width="1" height="3" fill="#000"/>
<text transform="translate(132 849) scale(1 1.1)" fill="#000" color="#000" font-size="9" >6 Mar 01:15</text>
<rect x="197" y="837" width="1" height="3" fill="#000"/>
<text transform="translate(196 849) scale(1 1.1)" fill="#000" color="#000" font-size="9" >8 Mar 01:15</text>
<rect x="261" y="837" width="1" height="3" fill="#000"/>
<text transform="translate(260 849) scale(1 1.1)" fill="#000" color="#000" font-size="9" >10 Mar 01:15</text>
<rect x="325" y="837" width="1" height="3" fill="#000"/>
<text transform="translate(324 849) scale(1 1.1)" fill="#000" color="#000" font-size="9" >14 Mar 01:15</text>
<rect x="389" y="837" width="1" height="3" fill="#000"/>
<text transform="translate(388 849) scale(1 1.1)" fill="#000" color="#000" font-size="9" >16 Mar 01:15</text>
<rect x="453" y="837" width="1" height="3" fill="#000"/>
<text transform="translate(452 849) scale(1 1.1)" fill="#000" color="#000" font-size="9" >20 Mar 01:15</text>
<rect x="517" y="837" width="1" height="3" fill="#000"/>
<text transform="translate(516 849) scale(1 1.1)" fill="#000" color="#000" font-size="9" >22 Mar 01:15</text>
<rect x="581" y="837" width="1" height="3" fill="#000"/>
<text transform="translate(580 849) scale(1 1.1)" fill="#000" color="#000" font-size="9" >24 Mar 01:15</text>
<rect x="645" y="837" width="1" height="3" fill="#000"/>
<text transform="translate(644 849) scale(1 1.1)" fill="#000" color="#000" font-size="9" >28 Mar 01:15</text>
<rect x="709" y="837" width="1" height="3" fill="#000"/>
<text transform="translate(708 849) scale(1 1.1)" fill="#000" color="#000" font-size="9" >30 Mar 01:15</text>
<rect x="773" y="837" width="1" height="3" fill="#000"/>
<text transform="translate(772 849) scale(1 1.1)" fill="#000" color="#000" font-size="9" >3 Apr 01:15</text>
<rect x="837" y="837" width="1" height="3" fill="#000"/>
<text transform="translate(836 849) scale(1 1.1)" fill="#000" color="#000" font-size="9" >6 Apr 01:15</text>
<rect x="901" y="837" width="1" height="3" fill="#000"/>
<text transform="translate(900 849) scale(1 1.1)" fill="#000" color="#000" font-size="9" >12 Apr 01:15</text>
<rect x="965" y="837" width="1" height="3" fill="#000"/>
<text transform="translate(964 849) scale(1 1.1)" fill="#000" color="#000" font-size="9" >14 Apr 01:15</text>
<rect x="1029" y="837" width="1" height="3" fill="#000"/>
<text transform="translate(1028 849) scale(1 1.1)" fill="#000" color="#000" font-size="9" >18 Apr 01:15</text>
<rect x="1093" y="837" width="1" height="3" fill="#000"/>
<text transform="translate(1092 849) scale(1 1.1)" fill="#000" color="#000" font-size="9" >20 Apr 01:15</text>
<rect x="1157" y="837" width="1" height="3" fill="#000"/>
<text transform="translate(1156 849) scale(1 1.1)" fill="#000" color="#000" font-size="9" >24 Apr 01:15</text>
<rect x="1221" y="837" width="1" height="3" fill="#000"/>
<text transform="translate(1220 849) scale(1 1.1)" fill="#000" color="#000" font-size="9" >26 Apr 01:15</text>
<rect x="1285" y="837" width="1" height="3" fill="#000"/>
<text transform="translate(1284 849) scale(1 1.1)" fill="#000" color="#000" font-size="9" >28 Apr 01:15</text>
<rect x="5" y="4" width="1" height="21" fill="#a0a0a0"/>
<rect x="6" y="4" width="1" height="21" fill="#ffffff"/>
<g shape-rendering="geometricPrecision">
<defs><linearGradient id="gp" x1="0" y1="0" x2="1" y2="1"><stop offset="0" stop-color="#a8ffa8"/><stop offset="0.6" stop-color="#10f020"/><stop offset="1" stop-color="#08c010"/></linearGradient></defs>
<path d="M15.5,7.5 h8 l3,3 v10 h-11 z" fill="#fff" stroke="#666" stroke-width="1"/>
<path d="M23.3,7.6 l3.1,3.1 h-3.1 z" fill="#555"/><circle cx="24.5" cy="9.5" r="0.6" fill="#fff"/>
<rect x="17" y="9" width="3" height="1.4" fill="#888"/><rect x="17" y="13" width="6" height="0.9" fill="#888"/><rect x="17" y="15" width="5" height="0.9" fill="#888"/><rect x="17" y="17" width="3" height="0.9" fill="#888"/>
<path d="M23.4,13.5 h3.4 v3.7 h3.7 v3.4 h-3.7 v3.7 h-3.4 v-3.7 h-3.7 v-3.4 h3.7 z" fill="url(#gp)" stroke="#067a06" stroke-width="0.9"/>
</g>
<g fill="#000" shape-rendering="crispEdges"><rect x="37" y="8" width="1" height="1"/>
<rect x="34" y="9" width="6" height="1"/>
<rect x="35" y="10" width="1" height="1"/>
<rect x="36" y="11" width="1" height="1"/>
<rect x="38" y="10" width="1" height="1"/>
<rect x="38" y="11" width="1" height="1"/>
<rect x="34" y="12" width="6" height="1"/>
<rect x="34" y="14" width="6" height="1"/>
<rect x="37" y="13" width="1" height="5"/>
<rect x="35" y="18" width="3" height="1"/>
<line x1="36.5" y1="15.5" x2="34.5" y2="17.5" stroke="#000" stroke-width="1.1" shape-rendering="geometricPrecision"/>
<line x1="38.5" y1="15.5" x2="39.5" y2="17.5" stroke="#000" stroke-width="1.1" shape-rendering="geometricPrecision"/>
<line x1="44.5" y1="8.5" x2="41.5" y2="9.5" stroke="#000" stroke-width="1.1" shape-rendering="geometricPrecision"/>
<rect x="41" y="9" width="1" height="7"/>
<line x1="41.5" y1="15.5" x2="39.5" y2="18.5" stroke="#000" stroke-width="1.1" shape-rendering="geometricPrecision"/>
<rect x="42" y="12" width="4" height="1"/>
<rect x="43" y="12" width="1" height="7"/>
<rect x="47" y="8" width="1" height="1"/>
<rect x="48" y="9" width="1" height="1"/>
<rect x="48" y="10" width="1" height="1"/>
<rect x="46" y="12" width="3" height="1"/>
<rect x="48" y="12" width="1" height="6"/>
<line x1="48.5" y1="17.5" x2="50.5" y2="15.5" stroke="#000" stroke-width="1.1" shape-rendering="geometricPrecision"/>
<rect x="50" y="9" width="8" height="1"/>
<rect x="54" y="9" width="1" height="10"/>
<rect x="51" y="18" width="3" height="1"/>
<rect x="61" y="8" width="1" height="1"/>
<rect x="62" y="9" width="1" height="1"/>
<rect x="66" y="8" width="1" height="1"/>
<rect x="65" y="9" width="1" height="1"/>
<rect x="59" y="10" width="10" height="1"/>
<rect x="59" y="12" width="10" height="1"/>
<rect x="59" y="14" width="10" height="1"/>
<rect x="59" y="10" width="1" height="5"/>
<rect x="68" y="10" width="1" height="5"/>
<rect x="63" y="10" width="1" height="9"/>
<rect x="58" y="16" width="12" height="1"/>
<rect x="190" y="8" width="1" height="1"/>
<rect x="187" y="9" width="1" height="10"/>
<rect x="195" y="9" width="1" height="10"/>
<rect x="187" y="10" width="9" height="1"/>
<rect x="187" y="12" width="9" height="1"/>
<rect x="187" y="14" width="9" height="1"/>
<rect x="187" y="17" width="9" height="1"/>
<rect x="199" y="9" width="5" height="1"/>
<rect x="198" y="12" width="6" height="1"/>
<line x1="201.5" y1="13.5" x2="199.5" y2="16.5" stroke="#000" stroke-width="1.1" shape-rendering="geometricPrecision"/>
<rect x="199" y="17" width="4" height="1"/>
<rect x="202" y="15" width="1" height="1"/>
<rect x="203" y="16" width="1" height="1"/>
<rect x="204" y="10" width="5" height="1"/>
<rect x="208" y="10" width="1" height="9"/>
<rect x="206" y="18" width="2" height="1"/>
<rect x="206" y="8" width="1" height="7"/>
<line x1="206.5" y1="14.5" x2="204.5" y2="18.5" stroke="#000" stroke-width="1.1" shape-rendering="geometricPrecision"/>
<rect x="215" y="8" width="1" height="1"/>
<rect x="215" y="9" width="1" height="1"/>
<rect x="210" y="10" width="12" height="1"/>
<line x1="213.5" y1="11.5" x2="211.5" y2="13.5" stroke="#000" stroke-width="1.1" shape-rendering="geometricPrecision"/>
<line x1="218.5" y1="11.5" x2="220.5" y2="13.5" stroke="#000" stroke-width="1.1" shape-rendering="geometricPrecision"/>
<line x1="213.5" y1="14.5" x2="220.5" y2="18.5" stroke="#000" stroke-width="1.1" shape-rendering="geometricPrecision"/>
<line x1="219.5" y1="14.5" x2="211.5" y2="18.5" stroke="#000" stroke-width="1.1" shape-rendering="geometricPrecision"/>
<rect x="224" y="8" width="1" height="5"/>
<rect x="232" y="8" width="1" height="5"/>
<rect x="224" y="8" width="9" height="1"/>
<rect x="224" y="10" width="9" height="1"/>
<rect x="224" y="12" width="9" height="1"/>
<rect x="222" y="14" width="11" height="1"/>
<rect x="232" y="14" width="1" height="5"/>
<rect x="229" y="18" width="3" height="1"/>
<line x1="224.5" y1="14.5" x2="222.5" y2="16.5" stroke="#000" stroke-width="1.1" shape-rendering="geometricPrecision"/>
<line x1="227.5" y1="15.5" x2="223.5" y2="18.5" stroke="#000" stroke-width="1.1" shape-rendering="geometricPrecision"/>
<line x1="230.5" y1="15.5" x2="226.5" y2="18.5" stroke="#000" stroke-width="1.1" shape-rendering="geometricPrecision"/></g>
<defs><linearGradient id="gb" x1="0" y1="0" x2="1" y2="1"><stop offset="0" stop-color="#ffe878"/><stop offset="0.5" stop-color="#f0c020"/><stop offset="1" stop-color="#d89a10"/></linearGradient><linearGradient id="cl" x1="0" y1="0" x2="0" y2="1"><stop offset="0" stop-color="#ffffff"/><stop offset="1" stop-color="#b8c4d8"/></linearGradient><linearGradient id="bx" x1="0" y1="0" x2="0" y2="1"><stop offset="0" stop-color="#3aa0ff"/><stop offset="1" stop-color="#0a78e8"/></linearGradient></defs>
<g shape-rendering="geometricPrecision">
<path d="M82.3,16.6 L90,22.4 L97.8,17.4 L96.6,14.6 L90,20.2 Z" fill="#d8c890" stroke="#8a5410" stroke-width="0.9"/>
<path d="M87.8,8.4 L96.6,14.6 L90,20.4 L82.3,16.6 Q85.5,13.5 87.8,8.4 Z" fill="url(#gb)" stroke="#9a6010" stroke-width="0.9"/>
<path d="M84,16.9 L90,21 L96,16.5" fill="none" stroke="#f4e0a0" stroke-width="0.8"/>
<path d="M112.3,7.5 L122,8 L123,9.6 L123,17 L112.3,17 Z" fill="url(#bx)" stroke="#1868d0" stroke-width="0.7"/>
<path d="M113,8.2 L115.3,10.3 L115.3,16" fill="none" stroke="#d8f0ff" stroke-width="0.8"/>
<path d="M117,12 L121.5,11.3" fill="none" stroke="#e8f6ff" stroke-width="1.3"/>
<path d="M111.5,22.4 Q109.3,21.8 110.3,19.6 Q111,17.6 113.3,18.3 Q114,15.8 116.5,16.3 Q118.6,14.4 121,16 Q122.2,18 122.5,17.6 Q125.8,17.2 125.8,20.2 Q125.6,22.4 123.8,22.4 Z" fill="url(#cl)" stroke="#4a5a88" stroke-width="0.9"/>
<defs><linearGradient id="rg" x1="0" y1="0" x2="1" y2="1"><stop offset="0" stop-color="#e8f4e0"/><stop offset="1" stop-color="#30a030"/></linearGradient></defs>
<path d="M146,14.7 L146,22.6 A7.9,7.9 0 0 0 153.9,14.7 A7.9,7.9 0 0 0 146,6.8 Z" fill="url(#rg)" opacity="0.75"/>
<circle cx="146" cy="14.7" r="7.3" fill="none" stroke="#4a74d0" stroke-width="1.1" opacity="0.8"/>
<circle cx="146" cy="14.7" r="4.4" fill="none" stroke="#4a74d0" stroke-width="1.1" opacity="0.75"/>
<circle cx="146" cy="14.7" r="1.9" fill="#2a58c8"/>
<rect x="145.8" y="14.7" width="1.4" height="7.8" fill="#1a9a1a"/>
<path d="M165.8,13.8 L181.2,13.8 L173.5,22.5 Z" fill="#f2d848" stroke="#b88a10" stroke-width="0.8"/>
<ellipse cx="173.5" cy="11.6" rx="8" ry="2.9" fill="#70c0ec" stroke="#2a86b0" stroke-width="0.9"/>
<ellipse cx="173.3" cy="9.6" rx="3.4" ry="2.6" fill="#80ccf4" stroke="#2a86b0" stroke-width="0.8"/>
<circle cx="177.6" cy="18.7" r="3.9" fill="#e02a10" stroke="#a81808" stroke-width="0.8"/>
<rect x="176.3" y="17.4" width="2.7" height="2.7" fill="#fff"/>
</g>
<rect x="241" y="2" width="1" height="24" fill="#a0a0a0"/>
<rect x="242" y="2" width="1" height="24" fill="#ffffff"/>
<rect x="245" y="5" width="4" height="1" fill="#a8a8a8"/>
<rect x="245" y="7" width="4" height="1" fill="#a8a8a8"/>
<rect x="245" y="9" width="4" height="1" fill="#a8a8a8"/>
<rect x="245" y="11" width="4" height="1" fill="#a8a8a8"/>
<rect x="245" y="13" width="4" height="1" fill="#a8a8a8"/>
<rect x="245" y="15" width="4" height="1" fill="#a8a8a8"/>
<rect x="245" y="17" width="4" height="1" fill="#a8a8a8"/>
<rect x="245" y="19" width="4" height="1" fill="#a8a8a8"/>
<rect x="245" y="21" width="4" height="1" fill="#a8a8a8"/>
<rect x="245" y="23" width="4" height="1" fill="#a8a8a8"/>
<rect x="259" y="10" width="1" height="13" fill="#4c4c4c"/>
<polygon points="257.2,12 259.5,8.5 261.8,12" fill="#4c4c4c" shape-rendering="geometricPrecision"/>
<rect x="257" y="20" width="13" height="1" fill="#4c4c4c"/>
<polygon points="268,18.2 271.5,20.5 268,22.8" fill="#4c4c4c" shape-rendering="geometricPrecision"/>
<rect x="265" y="10" width="1.3" height="9" fill="#139113"/><rect x="265" y="11" width="3" height="1.2" fill="#139113"/><rect x="262" y="17" width="3" height="1.2" fill="#139113"/>
<rect x="279" y="3" width="25" height="22" fill="#f6f6f6"/>
<rect x="279" y="3" width="25" height="1" fill="#8c8c8c"/>
<rect x="279" y="3" width="1" height="22" fill="#8c8c8c"/>
<rect x="304" y="3" width="1" height="23" fill="#ffffff"/>
<rect x="279" y="25" width="26" height="1" fill="#ffffff"/>
<rect x="287" y="10" width="1" height="13" fill="#4c4c4c"/>
<polygon points="285.2,12 287.5,8.5 289.8,12" fill="#4c4c4c" shape-rendering="geometricPrecision"/>
<rect x="285" y="20" width="13" height="1" fill="#4c4c4c"/>
<polygon points="296,18.2 299.5,20.5 296,22.8" fill="#4c4c4c" shape-rendering="geometricPrecision"/>
<rect x="293" y="7" width="1" height="12" fill="#0a8a0a"/>
<rect x="291.5" y="9.5" width="4" height="7" fill="#3ee03e" stroke="#0a8a0a" stroke-width="1"/>
<rect x="315" y="10" width="1" height="13" fill="#4c4c4c"/>
<polygon points="313.2,12 315.5,8.5 317.8,12" fill="#4c4c4c" shape-rendering="geometricPrecision"/>
<rect x="313" y="20" width="13" height="1" fill="#4c4c4c"/>
<polygon points="324,18.2 327.5,20.5 324,22.8" fill="#4c4c4c" shape-rendering="geometricPrecision"/>
<path d="M314,17.5 q3,-3 5.5,-5.5 q2,-1 3.5,1 q2,2 4,2.5" fill="none" stroke="#2a9a2a" stroke-width="1.2" shape-rendering="geometricPrecision"/>
<rect x="336" y="4" width="1" height="21" fill="#a0a0a0"/>
<rect x="337" y="4" width="1" height="21" fill="#ffffff"/>
<g shape-rendering="geometricPrecision">
<line x1="355" y1="17" x2="360" y2="22" stroke="#b09020" stroke-width="3"/>
<line x1="355" y1="17" x2="360" y2="22" stroke="#f0e080" stroke-width="1.4"/>
<circle cx="351" cy="12.5" r="5.3" fill="#dff0ff" stroke="#4a90d0" stroke-width="1.2"/>
<rect x="348" y="11.7" width="6" height="1.8" fill="#4a90c8"/>
<rect x="350.1" y="9.5" width="1.8" height="6" fill="#4a90c8"/>
<line x1="383" y1="17" x2="388" y2="22" stroke="#b09020" stroke-width="3"/>
<line x1="383" y1="17" x2="388" y2="22" stroke="#f0e080" stroke-width="1.4"/>
<circle cx="379" cy="12.5" r="5.3" fill="#dff0ff" stroke="#4a90d0" stroke-width="1.2"/>
<rect x="376" y="11.7" width="6" height="1.8" fill="#4a90c8"/>
</g>
<rect x="401" y="7" width="8" height="8" fill="#2e9e2e"/>
<rect x="402" y="10" width="6" height="4" fill="#ffffff"/>
<rect x="409" y="7" width="8" height="8" fill="#2a5ed8"/>
<rect x="410" y="10" width="6" height="4" fill="#ffffff"/>
<rect x="401" y="15" width="8" height="8" fill="#2a5ed8"/>
<rect x="402" y="18" width="6" height="4" fill="#ffffff"/>
<rect x="409" y="15" width="8" height="8" fill="#2e9e2e"/>
<rect x="410" y="18" width="6" height="4" fill="#ffffff"/>
<rect x="426" y="4" width="1" height="21" fill="#a0a0a0"/>
<rect x="427" y="4" width="1" height="21" fill="#ffffff"/>
<rect x="431" y="3" width="25" height="22" fill="#f6f6f6"/>
<rect x="431" y="3" width="25" height="1" fill="#8c8c8c"/>
<rect x="431" y="3" width="1" height="22" fill="#8c8c8c"/>
<rect x="456" y="3" width="1" height="23" fill="#ffffff"/>
<rect x="431" y="25" width="26" height="1" fill="#ffffff"/>
<rect x="439" y="10" width="1" height="13" fill="#4c4c4c"/>
<polygon points="437.2,12 439.5,8.5 441.8,12" fill="#4c4c4c" shape-rendering="geometricPrecision"/>
<rect x="437" y="20" width="13" height="1" fill="#4c4c4c"/>
<polygon points="448,18.2 451.5,20.5 448,22.8" fill="#4c4c4c" shape-rendering="geometricPrecision"/>
<polygon points="445,11 445,18 450,14.5" fill="#20c040" stroke="#108020" stroke-width="0.6"/>
<rect x="459" y="3" width="25" height="22" fill="#f6f6f6"/>
<rect x="459" y="3" width="25" height="1" fill="#8c8c8c"/>
<rect x="459" y="3" width="1" height="22" fill="#8c8c8c"/>
<rect x="484" y="3" width="1" height="23" fill="#ffffff"/>
<rect x="459" y="25" width="26" height="1" fill="#ffffff"/>
<rect x="467" y="10" width="1" height="13" fill="#4c4c4c"/>
<polygon points="465.2,12 467.5,8.5 469.8,12" fill="#4c4c4c" shape-rendering="geometricPrecision"/>
<rect x="465" y="20" width="13" height="1" fill="#4c4c4c"/>
<polygon points="476,18.2 479.5,20.5 476,22.8" fill="#4c4c4c" shape-rendering="geometricPrecision"/>
<rect x="473" y="9" width="1.4" height="10" fill="#2060a0"/>
<polygon points="475,14 479,11.5 479,16.5" fill="#e04010"/><rect x="478" y="13.5" width="3" height="1.2" fill="#e04010"/>
<rect x="488" y="4" width="1" height="21" fill="#a0a0a0"/>
<rect x="489" y="4" width="1" height="21" fill="#ffffff"/>
<g shape-rendering="geometricPrecision">
<path d="M498.5,7.5 h7 l3,3 v10 h-10 z" fill="#fff" stroke="#666" stroke-width="1"/>
<text x="500" y="17" font-size="9" font-style="italic" fill="#444">f</text>
<path d="M506.4,13.5 h3.4 v3.7 h3.7 v3.4 h-3.7 v3.7 h-3.4 v-3.7 h-3.7 v-3.4 h3.7 z" fill="url(#gp)" stroke="#067a06" stroke-width="0.9"/>
</g>
<polygon points="519,13 526,13 522.5,16.5" fill="#000"/>
<g shape-rendering="geometricPrecision">
<circle cx="544" cy="15" r="7.5" fill="#2a7ad8" stroke="#1550a0" stroke-width="1"/>
<circle cx="544" cy="15" r="5.3" fill="#f4f8ff"/>
<path d="M544,11 v4 h3" fill="none" stroke="#333" stroke-width="1"/>
</g>
<polygon points="558,13 565,13 561.5,16.5" fill="#000"/>
<rect x="575" y="8" width="16" height="14" fill="#fff" stroke="#2a6ad0" stroke-width="1"/>
<rect x="575.5" y="8.5" width="15" height="2" fill="#5a9ae0"/>
<rect x="576" y="15" width="14" height="1" fill="#2a6ad0"/>
<path d="M577,14 l3,-1.5 l3,1 l3,-1.5 l3,-0.5" fill="none" stroke="#c03010" stroke-width="1" shape-rendering="geometricPrecision"/>
<path d="M577,20 l3,-1 l3,-1.5 l3,2 l3,-1.5" fill="none" stroke="#20a020" stroke-width="1" shape-rendering="geometricPrecision"/>
<polygon points="597,13 604,13 600.5,16.5" fill="#000"/>
<rect x="609" y="2" width="1" height="24" fill="#a0a0a0"/>
<rect x="610" y="2" width="1" height="24" fill="#ffffff"/>
<rect x="613" y="5" width="4" height="1" fill="#a8a8a8"/>
<rect x="613" y="7" width="4" height="1" fill="#a8a8a8"/>
<rect x="613" y="9" width="4" height="1" fill="#a8a8a8"/>
<rect x="613" y="11" width="4" height="1" fill="#a8a8a8"/>
<rect x="613" y="13" width="4" height="1" fill="#a8a8a8"/>
<rect x="613" y="15" width="4" height="1" fill="#a8a8a8"/>
<rect x="613" y="17" width="4" height="1" fill="#a8a8a8"/>
<rect x="613" y="19" width="4" height="1" fill="#a8a8a8"/>
<rect x="613" y="21" width="4" height="1" fill="#a8a8a8"/>
<rect x="613" y="23" width="4" height="1" fill="#a8a8a8"/>
<rect x="619" y="3" width="25" height="22" fill="#f6f6f6"/>
<rect x="619" y="3" width="25" height="1" fill="#8c8c8c"/>
<rect x="619" y="3" width="1" height="22" fill="#8c8c8c"/>
<rect x="644" y="3" width="1" height="23" fill="#ffffff"/>
<rect x="619" y="25" width="26" height="1" fill="#ffffff"/>
<polygon points="627,8 627,20 630,17 632.5,22 634.5,21 632,16.5 636,16.5" fill="#404040" shape-rendering="geometricPrecision"/>
<rect x="659" y="8" width="1" height="6" fill="#404040"/><rect x="659" y="16" width="1" height="7" fill="#404040"/><rect x="652" y="15" width="6" height="1" fill="#404040"/><rect x="661" y="15" width="6" height="1" fill="#404040"/><rect x="659" y="15" width="1" height="1" fill="#808080"/>
<rect x="676" y="4" width="1" height="21" fill="#a0a0a0"/>
<rect x="677" y="4" width="1" height="21" fill="#ffffff"/>
<rect x="693" y="9" width="1" height="13" fill="#404040"/>
<rect x="716" y="15" width="12" height="1" fill="#404040"/>
<line x1="744" y1="22" x2="756" y2="10" stroke="#404040" stroke-width="1.3" shape-rendering="geometricPrecision"/>
<g shape-rendering="geometricPrecision" stroke="#404040" stroke-width="1" fill="none">
<line x1="770" y1="17" x2="779" y2="9"/><line x1="772" y1="21" x2="783" y2="12"/><line x1="773" y1="11" x2="775" y2="20"/><line x1="777" y1="9" x2="779" y2="18"/><line x1="781" y1="7" x2="783" y2="14"/>
</g>
<text x="780" y="24" font-size="7" font-weight="bold" fill="#404040">E</text>
<rect x="799" y="8" width="13" height="1" fill="#555" stroke-dasharray="1,1"/>
<rect x="799" y="11" width="13" height="1" fill="#555" stroke-dasharray="1,1"/>
<rect x="799" y="15" width="13" height="1" fill="#555" stroke-dasharray="1,1"/>
<rect x="799" y="19" width="13" height="1" fill="#555" stroke-dasharray="1,1"/>
<g><rect x="800" y="8" width="1" height="1" fill="#f0f0f0"/><rect x="802" y="8" width="1" height="1" fill="#f0f0f0"/><rect x="804" y="8" width="1" height="1" fill="#f0f0f0"/><rect x="806" y="8" width="1" height="1" fill="#f0f0f0"/><rect x="808" y="8" width="1" height="1" fill="#f0f0f0"/><rect x="810" y="8" width="1" height="1" fill="#f0f0f0"/><rect x="800" y="11" width="1" height="1" fill="#f0f0f0"/><rect x="802" y="11" width="1" height="1" fill="#f0f0f0"/><rect x="804" y="11" width="1" height="1" fill="#f0f0f0"/><rect x="806" y="11" width="1" height="1" fill="#f0f0f0"/><rect x="808" y="11" width="1" height="1" fill="#f0f0f0"/><rect x="810" y="11" width="1" height="1" fill="#f0f0f0"/><rect x="800" y="15" width="1" height="1" fill="#f0f0f0"/><rect x="802" y="15" width="1" height="1" fill="#f0f0f0"/><rect x="804" y="15" width="1" height="1" fill="#f0f0f0"/><rect x="806" y="15" width="1" height="1" fill="#f0f0f0"/><rect x="808" y="15" width="1" height="1" fill="#f0f0f0"/><rect x="810" y="15" width="1" height="1" fill="#f0f0f0"/><rect x="800" y="19" width="1" height="1" fill="#f0f0f0"/><rect x="802" y="19" width="1" height="1" fill="#f0f0f0"/><rect x="804" y="19" width="1" height="1" fill="#f0f0f0"/><rect x="806" y="19" width="1" height="1" fill="#f0f0f0"/><rect x="808" y="19" width="1" height="1" fill="#f0f0f0"/><rect x="810" y="19" width="1" height="1" fill="#f0f0f0"/></g>
<text x="808" y="24" font-size="7" font-weight="bold" fill="#404040">F</text>
<text x="829.3" y="20" font-size="11.5" font-weight="bold" fill="#5a5a5a" class="nt">A</text>
<rect x="855.5" y="8.5" width="12" height="13" fill="none" stroke="#555" stroke-width="1" stroke-dasharray="1,1"/>
<text x="857.5" y="19.5" font-size="10" font-weight="bold" fill="#555">T</text>
<g shape-rendering="geometricPrecision" fill="#505050">
<polygon points="883,12 886,9 889,12 886,15"/><polygon points="891,19 894,16 897,19 894,22"/>
<path d="M885,15 l3,3 l4,-5" fill="none" stroke="#505050" stroke-width="1.3"/>
</g>
<polygon points="903,13 910,13 906.5,16.5" fill="#000"/>
<rect x="915" y="2" width="1" height="24" fill="#a0a0a0"/>
<rect x="916" y="2" width="1" height="24" fill="#ffffff"/>
<rect x="919" y="5" width="4" height="1" fill="#a8a8a8"/>
<rect x="919" y="7" width="4" height="1" fill="#a8a8a8"/>
<rect x="919" y="9" width="4" height="1" fill="#a8a8a8"/>
<rect x="919" y="11" width="4" height="1" fill="#a8a8a8"/>
<rect x="919" y="13" width="4" height="1" fill="#a8a8a8"/>
<rect x="919" y="15" width="4" height="1" fill="#a8a8a8"/>
<rect x="919" y="17" width="4" height="1" fill="#a8a8a8"/>
<rect x="919" y="19" width="4" height="1" fill="#a8a8a8"/>
<rect x="919" y="21" width="4" height="1" fill="#a8a8a8"/>
<rect x="919" y="23" width="4" height="1" fill="#a8a8a8"/>
<rect x="1065" y="3" width="25" height="22" fill="#f6f6f6"/>
<rect x="1065" y="3" width="25" height="1" fill="#8c8c8c"/>
<rect x="1065" y="3" width="1" height="22" fill="#8c8c8c"/>
<rect x="1090" y="3" width="1" height="23" fill="#ffffff"/>
<rect x="1065" y="25" width="26" height="1" fill="#ffffff"/>
<text x="930" y="18.4" font-size="9.8" fill="#454545" class="nt">M1</text>
<text x="958" y="18.4" font-size="9.8" fill="#454545" class="nt">M5</text>
<text x="984" y="18.4" font-size="9.8" fill="#454545" class="nt">M15</text>
<text x="1012" y="18.4" font-size="9.8" fill="#454545" class="nt">M30</text>
<text x="1043" y="18.4" font-size="9.8" fill="#454545" class="nt">H1</text>
<text x="1070" y="18.4" font-size="9.8" fill="#454545" class="nt">H4</text>
<text x="1099" y="18.4" font-size="9.8" fill="#454545" class="nt">D1</text>
<text x="1127" y="18.4" font-size="9.8" fill="#454545" class="nt">W1</text>
<text x="1153" y="18.4" font-size="9.8" fill="#454545" class="nt">MN</text>
<rect x="1176" y="2" width="1" height="24" fill="#a0a0a0"/>
<rect x="1177" y="2" width="1" height="24" fill="#ffffff"/>
<g shape-rendering="geometricPrecision">
<circle cx="1646.5" cy="12.5" r="3.8" fill="#fff" stroke="#2563d0" stroke-width="1.3"/>
<line x1="1643.5" y1="15.5" x2="1639.5" y2="20" stroke="#2563d0" stroke-width="2.2"/>
<ellipse cx="1669.5" cy="17" rx="6" ry="4.5" fill="#e6e8ef" stroke="#a0a0a0" stroke-width="1"/>
<path d="M1666,20.5 l-1,3 l4,-2.5" fill="#e6e8ef" stroke="#a0a0a0" stroke-width="0.8"/>
<circle cx="1677.5" cy="12.5" r="8.2" fill="#dd2a18"/>
<text x="1674.6" y="17" font-size="11" fill="#fff" font-family="Liberation Serif" class="nt">1</text>
</g>
</svg>
</body></html>
